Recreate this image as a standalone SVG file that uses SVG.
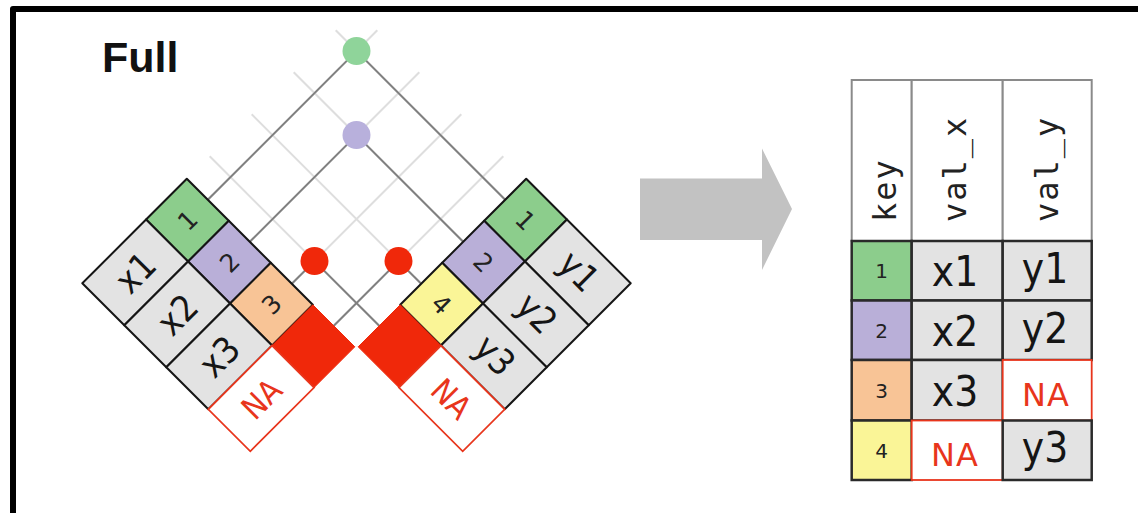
<svg xmlns="http://www.w3.org/2000/svg" width="1138" height="513" viewBox="0 0 1138 513">
<style>
.cell{stroke:#151515;stroke-width:2;stroke-linejoin:round}
.g{fill:#e3e3e3}
.k1{fill:#8ccd8c}
.k2{fill:#b9afd8}
.k3{fill:#f8c496}
.k4{fill:#faf597}
.kr{fill:#f0280a;stroke:#f0280a;stroke-width:1}
.na{fill:#fff;stroke:#e8351c;stroke-width:1.8}
.dark{stroke:#808080;stroke-width:2;fill:none}
.light{stroke:#dedede;stroke-width:2;fill:none}
.val{font-family:"DejaVu Sans Condensed","DejaVu Sans",sans-serif;font-stretch:condensed;font-size:36px;fill:#151515;text-anchor:middle}
.tval{font-family:"DejaVu Sans Condensed","DejaVu Sans",sans-serif;font-stretch:condensed;font-size:42px;fill:#151515;text-anchor:middle}
.nat{font-family:"DejaVu Sans Condensed","DejaVu Sans",sans-serif;font-stretch:condensed;font-size:32px;fill:#e8351c;text-anchor:middle}
.tna{font-family:"DejaVu Sans",sans-serif;font-size:32px;fill:#e8351c;text-anchor:middle;letter-spacing:1px}
.key{font-family:"DejaVu Sans",sans-serif;font-size:20px;fill:#222;text-anchor:middle}
.dkey{font-family:"DejaVu Sans",sans-serif;font-size:25px;fill:#222;text-anchor:middle}
.hdr{font-family:"DejaVu Sans Mono",monospace;font-size:32px;fill:#222;letter-spacing:2px}
.hc{fill:#fff;stroke:#8a8a8a;stroke-width:2}
.bc{stroke:#2a2a2a;stroke-width:2.5}
</style>
<rect width="1138" height="513" fill="#fff"/>
<path d="M13,513 V9 H1138" fill="none" stroke="#000" stroke-width="6" stroke-linejoin="round"/>
<text x="102" y="72" font-family="Liberation Sans, Arial, sans-serif" font-weight="bold" font-size="43" fill="#111">Full</text>

<g id="connectors">
  <g id="grid-light">
    <line class="light" x1="207.8" y1="199.8" x2="377.3" y2="30.3"/>
    <line class="light" x1="249.8" y1="241.8" x2="419.3" y2="72.3"/>
    <line class="light" x1="291.8" y1="283.8" x2="461.3" y2="114.3"/>
    <line class="light" x1="333.8" y1="325.8" x2="503.3" y2="156.3"/>
    <line class="light" x1="505.2" y1="199.8" x2="335.7" y2="30.3"/>
    <line class="light" x1="463.2" y1="241.8" x2="293.7" y2="72.3"/>
    <line class="light" x1="421.2" y1="283.8" x2="251.7" y2="114.3"/>
    <line class="light" x1="379.2" y1="325.8" x2="209.7" y2="156.3"/>
  </g>
  <g id="matches">
    <line class="dark" x1="207.8" y1="199.8" x2="356.5" y2="51.1"/>
    <line class="dark" x1="505.2" y1="199.8" x2="356.5" y2="51.1"/>
    <line class="dark" x1="249.8" y1="241.8" x2="356.5" y2="135.1"/>
    <line class="dark" x1="463.2" y1="241.8" x2="356.5" y2="135.1"/>
    <line class="dark" x1="291.8" y1="283.8" x2="314.5" y2="261.1"/>
    <line class="dark" x1="421.2" y1="283.8" x2="398.5" y2="261.1"/>
    <line class="dark" x1="314.5" y1="261.1" x2="379.2" y2="325.8"/>
    <line class="dark" x1="398.5" y1="261.1" x2="333.8" y2="325.8"/>
  </g>
</g>

<g id="dots">
  <circle id="dot-1" cx="356.5" cy="51.1" r="14" fill="#8fd49a"/>
  <circle id="dot-2" cx="356.5" cy="135.1" r="14" fill="#b8b0dc"/>
  <circle id="dot-3" cx="314.5" cy="261.1" r="14" fill="#f0280a"/>
  <circle id="dot-4" cx="398.5" cy="261.1" r="14" fill="#f0280a"/>
</g>

<g id="left-table">
  <g id="lk1"><polygon class="cell k1" points="186.8,178.8 228.8,220.8 188.05,261.55 146.05,219.55"/><text class="dkey" transform="translate(187.4,220.2) rotate(-45)" y="9">1</text></g>
  <g id="lk2"><polygon class="cell k2" points="228.8,220.8 270.8,262.8 230.05,303.55 188.05,261.55"/><text class="dkey" transform="translate(229.4,262.2) rotate(-45)" y="9">2</text></g>
  <g id="lk3"><polygon class="cell k3" points="270.8,262.8 312.8,304.8 272.05,345.55 230.05,303.55"/><text class="dkey" transform="translate(271.4,304.2) rotate(-45)" y="9">3</text></g>
  <g id="lv1"><polygon class="cell g" points="146.05,219.55 188.05,261.55 124.3,325.3 82.3,283.3"/><text class="val" transform="translate(135.2,272.4) rotate(-45)" y="13">x1</text></g>
  <g id="lv2"><polygon class="cell g" points="188.05,261.55 230.05,303.55 166.3,367.3 124.3,325.3"/><text class="val" transform="translate(177.2,314.4) rotate(-45)" y="13">x2</text></g>
  <g id="lv3"><polygon class="cell g" points="230.05,303.55 272.05,345.55 208.3,409.3 166.3,367.3"/><text class="val" transform="translate(219.2,356.4) rotate(-45)" y="13">x3</text></g>
  <g id="lk4"><polygon class="kr" points="312.8,304.8 354.8,346.8 314.05,387.55 272.05,345.55"/></g>
  <g id="lv4"><polygon class="na" points="272.05,345.55 314.05,387.55 250.3,451.3 208.3,409.3"/><text class="nat" transform="translate(261.2,398.4) rotate(-45)" y="12">NA</text></g>
</g>

<g id="right-table">
  <g id="rk1"><polygon class="cell k1" points="526.2,178.8 484.2,220.8 524.95,261.55 566.95,219.55"/><text class="dkey" transform="translate(525.6,220.2) rotate(45)" y="9">1</text></g>
  <g id="rk2"><polygon class="cell k2" points="484.2,220.8 442.2,262.8 482.95,303.55 524.95,261.55"/><text class="dkey" transform="translate(483.6,262.2) rotate(45)" y="9">2</text></g>
  <g id="rk4"><polygon class="cell k4" points="442.2,262.8 400.2,304.8 440.95,345.55 482.95,303.55"/><text class="dkey" transform="translate(441.6,304.2) rotate(45)" y="9">4</text></g>
  <g id="rv1"><polygon class="cell g" points="566.95,219.55 524.95,261.55 588.7,325.3 630.7,283.3"/><text class="val" transform="translate(577.8,272.4) rotate(45)" y="11">y1</text></g>
  <g id="rv2"><polygon class="cell g" points="524.95,261.55 482.95,303.55 546.7,367.3 588.7,325.3"/><text class="val" transform="translate(535.8,314.4) rotate(45)" y="11">y2</text></g>
  <g id="rv3"><polygon class="cell g" points="482.95,303.55 440.95,345.55 504.7,409.3 546.7,367.3"/><text class="val" transform="translate(493.8,356.4) rotate(45)" y="11">y3</text></g>
  <g id="rkna"><polygon class="kr" points="400.2,304.8 358.2,346.8 398.95,387.55 440.95,345.55"/></g>
  <g id="rvna"><polygon class="na" points="440.95,345.55 398.95,387.55 462.7,451.3 504.7,409.3"/><text class="nat" transform="translate(451.8,398.4) rotate(45)" y="12">NA</text></g>
</g>

<g id="arrow"><polygon points="640,178.5 762,178.5 762,148.5 792,209 762,270 762,240 640,240" fill="#c2c2c2"/></g>

<g id="result-table">
  <g id="hdr-key"><rect class="hc" x="851.7" y="80" width="60" height="161"/><text class="hdr" transform="translate(896,222) rotate(-90)">key</text></g>
  <g id="hdr-valx"><rect class="hc" x="911.7" y="80" width="91" height="161"/><text class="hdr" transform="translate(966,222) rotate(-90)">val_x</text></g>
  <g id="hdr-valy"><rect class="hc" x="1002.7" y="80" width="89" height="161"/><text class="hdr" transform="translate(1058,222) rotate(-90)">val_y</text></g>

  <g id="t-r1">
    <rect class="bc k1" x="851.7" y="241" width="60" height="59.5"/>
    <rect class="bc g" x="911.7" y="241" width="91" height="59.5"/>
    <rect class="bc g" x="1002.7" y="241" width="89" height="59.5"/>
    <text class="key" x="881.7" y="278">1</text>
    <text class="tval" x="955" y="286">x1</text>
    <text class="tval" x="1045" y="283">y1</text>
  </g>
  <g id="t-r2">
    <rect class="bc k2" x="851.7" y="300.5" width="60" height="59.5"/>
    <rect class="bc g" x="911.7" y="300.5" width="91" height="59.5"/>
    <rect class="bc g" x="1002.7" y="300.5" width="89" height="59.5"/>
    <text class="key" x="881.7" y="337.5">2</text>
    <text class="tval" x="955" y="345.5">x2</text>
    <text class="tval" x="1045" y="342.5">y2</text>
  </g>
  <g id="t-r3">
    <rect class="bc k3" x="851.7" y="360" width="60" height="60.5"/>
    <rect class="bc g" x="911.7" y="360" width="91" height="60.5"/>
    <rect class="na" x="1002.7" y="360" width="89" height="60.5"/>
    <text class="key" x="881.7" y="397.5">3</text>
    <text class="tval" x="955" y="405.5">x3</text>
    <text class="tna" x="1046" y="406">NA</text>
  </g>
  <g id="t-r4">
    <rect class="bc k4" x="851.7" y="420.5" width="60" height="59.5"/>
    <rect class="na" x="911.7" y="420.5" width="91" height="59.5"/>
    <rect class="bc g" x="1002.7" y="420.5" width="89" height="59.5"/>
    <text class="key" x="881.7" y="457.5">4</text>
    <text class="tna" x="955" y="466">NA</text>
    <text class="tval" x="1045" y="462">y3</text>
  </g>
</g>
</svg>
